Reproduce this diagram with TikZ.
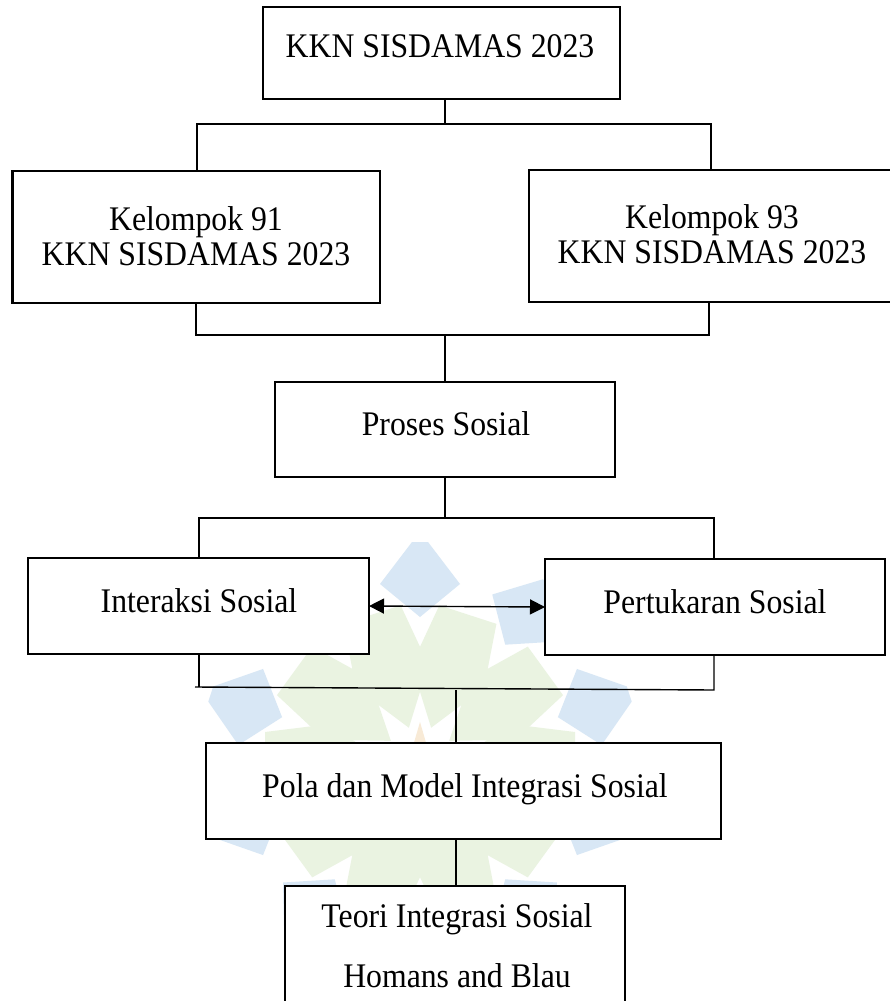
\documentclass[tikz,border=0pt]{standalone}
\usepackage{fontspec}
\setmainfont{Liberation Serif}[FakeStretch=0.92]
\usetikzlibrary{arrows.meta}
\definecolor{wmblue}{RGB}{216,231,245}
\definecolor{wmgreen}{RGB}{234,243,225}
\definecolor{wmstar}{RGB}{248,234,214}
\begin{document}
\begin{tikzpicture}[x=1pt,y=-1pt,
  box/.style={draw=black, fill=white, line width=2.8pt, rectangle, inner sep=0pt, outer sep=0pt},
  lbl/.style={anchor=base, inner sep=0pt, font=\fontsize{34.5}{40}\selectfont},
  conn/.style={draw=black, line width=1.4pt},
  dtip/.style={{Triangle[length=15pt,width=15pt]}-{Triangle[length=15pt,width=15pt]}}
]
\useasboundingbox (0,0) rectangle (890,1001);
\fill[white] (0,0) rectangle (890,1001);

% watermark
\begin{scope}
\clip (0,0) rectangle (890,1001);
\begin{scope}[shift={(420,762)}]
\foreach \a in {0,36,...,324} {
  \fill[wmblue, rotate=\a+90] (145,0) -- (178,-40) -- (220,-8) -- (220,8) -- (178,40) -- cycle;
  \fill[wmgreen, rotate=\a+108] (36,0) -- (90,-38) -- (155,-30) -- (155,30) -- (90,38) -- cycle;
}
\fill[wmstar] (0,-40) -- (9,-9) -- (40,0) -- (9,9) -- (0,40) -- (-9,9) -- (-40,0) -- (-9,-9) -- cycle;
\end{scope}
\end{scope}

% boxes
\node[box, minimum width=357pt, minimum height=92pt] (top) at (441.5,53) {};
\node[box, minimum width=367.5pt, minimum height=132pt] (g91) at (196.25,237) {};
\node[box, minimum width=364pt, minimum height=132pt] (g93) at (711,236) {};
\node[box, minimum width=340pt, minimum height=95pt] (proses) at (445,429.5) {};
\node[box, minimum width=341pt, minimum height=96pt] (inter) at (198.5,606) {};
\node[box, minimum width=340pt, minimum height=96pt] (pert) at (715,607) {};
\node[box, minimum width=515pt, minimum height=96pt] (pola) at (463.5,791) {};
\node[box, minimum width=340pt, minimum height=126pt] (teori) at (455,949) {};

% labels
\node[lbl] (t0) at (440,57) {KKN SISDAMAS 2023};
\node[lbl] (t1a) at (196,230) {Kelompok 91};
\node[lbl] (t1b) at (196,265) {KKN SISDAMAS 2023};
\node[lbl] (t2a) at (712,228) {Kelompok 93};
\node[lbl] (t2b) at (712,263) {KKN SISDAMAS 2023};
\node[lbl] (t3) at (446,435) {Proses Sosial};
\node[lbl] (t4) at (199,612) {Interaksi Sosial};
\node[lbl] (t5) at (715,613) {Pertukaran Sosial};
\node[lbl] (t6) at (465,797) {Pola dan Model Integrasi Sosial};
\node[lbl] (t7a) at (457,927) {Teori Integrasi Sosial};
\node[lbl] (t7b) at (457,987) {Homans and Blau};

% junctions
\coordinate (j1) at (445,124);
\coordinate (j1l) at (197,124);
\coordinate (j1r) at (711,124);
\coordinate (j2) at (445,335);
\coordinate (j2l) at (196,335);
\coordinate (j2r) at (709,335);
\coordinate (j3) at (445,518);
\coordinate (j3l) at (199,518);
\coordinate (j3r) at (714,518);
\coordinate (j4l) at (199,687);
\coordinate (j4s) at (195,687);
\coordinate (j4r) at (714,690);
\coordinate (j4) at (456,690);

% connectors
\draw[conn] (top.south -| j1) -- (j1);
\draw[conn] (j1l |- g91.north) -- (j1l) -- (j1r) -- (j1r |- g93.north);
\draw[conn] (j2l |- g91.south) -- (j2l) -- (j2r) -- (j2r |- g93.south);
\draw[conn] (j2) -- (j2 |- proses.north);
\draw[conn] (proses.south -| j3) -- (j3);
\draw[conn] (j3l |- inter.north) -- (j3l) -- (j3r) -- (j3r |- pert.north);
\draw[conn] (j4l |- inter.south) -- (j4l);
\draw[conn] (j4s) -- (j4r) -- (j4r |- pert.south);
\draw[conn] (j4) -- (j4 |- pola.north);
\draw[conn] (pola.south -| j4) -- (teori.north -| j4);
\draw[conn, dtip] (inter.east) -- (pert.west);
\end{tikzpicture}
\end{document}
